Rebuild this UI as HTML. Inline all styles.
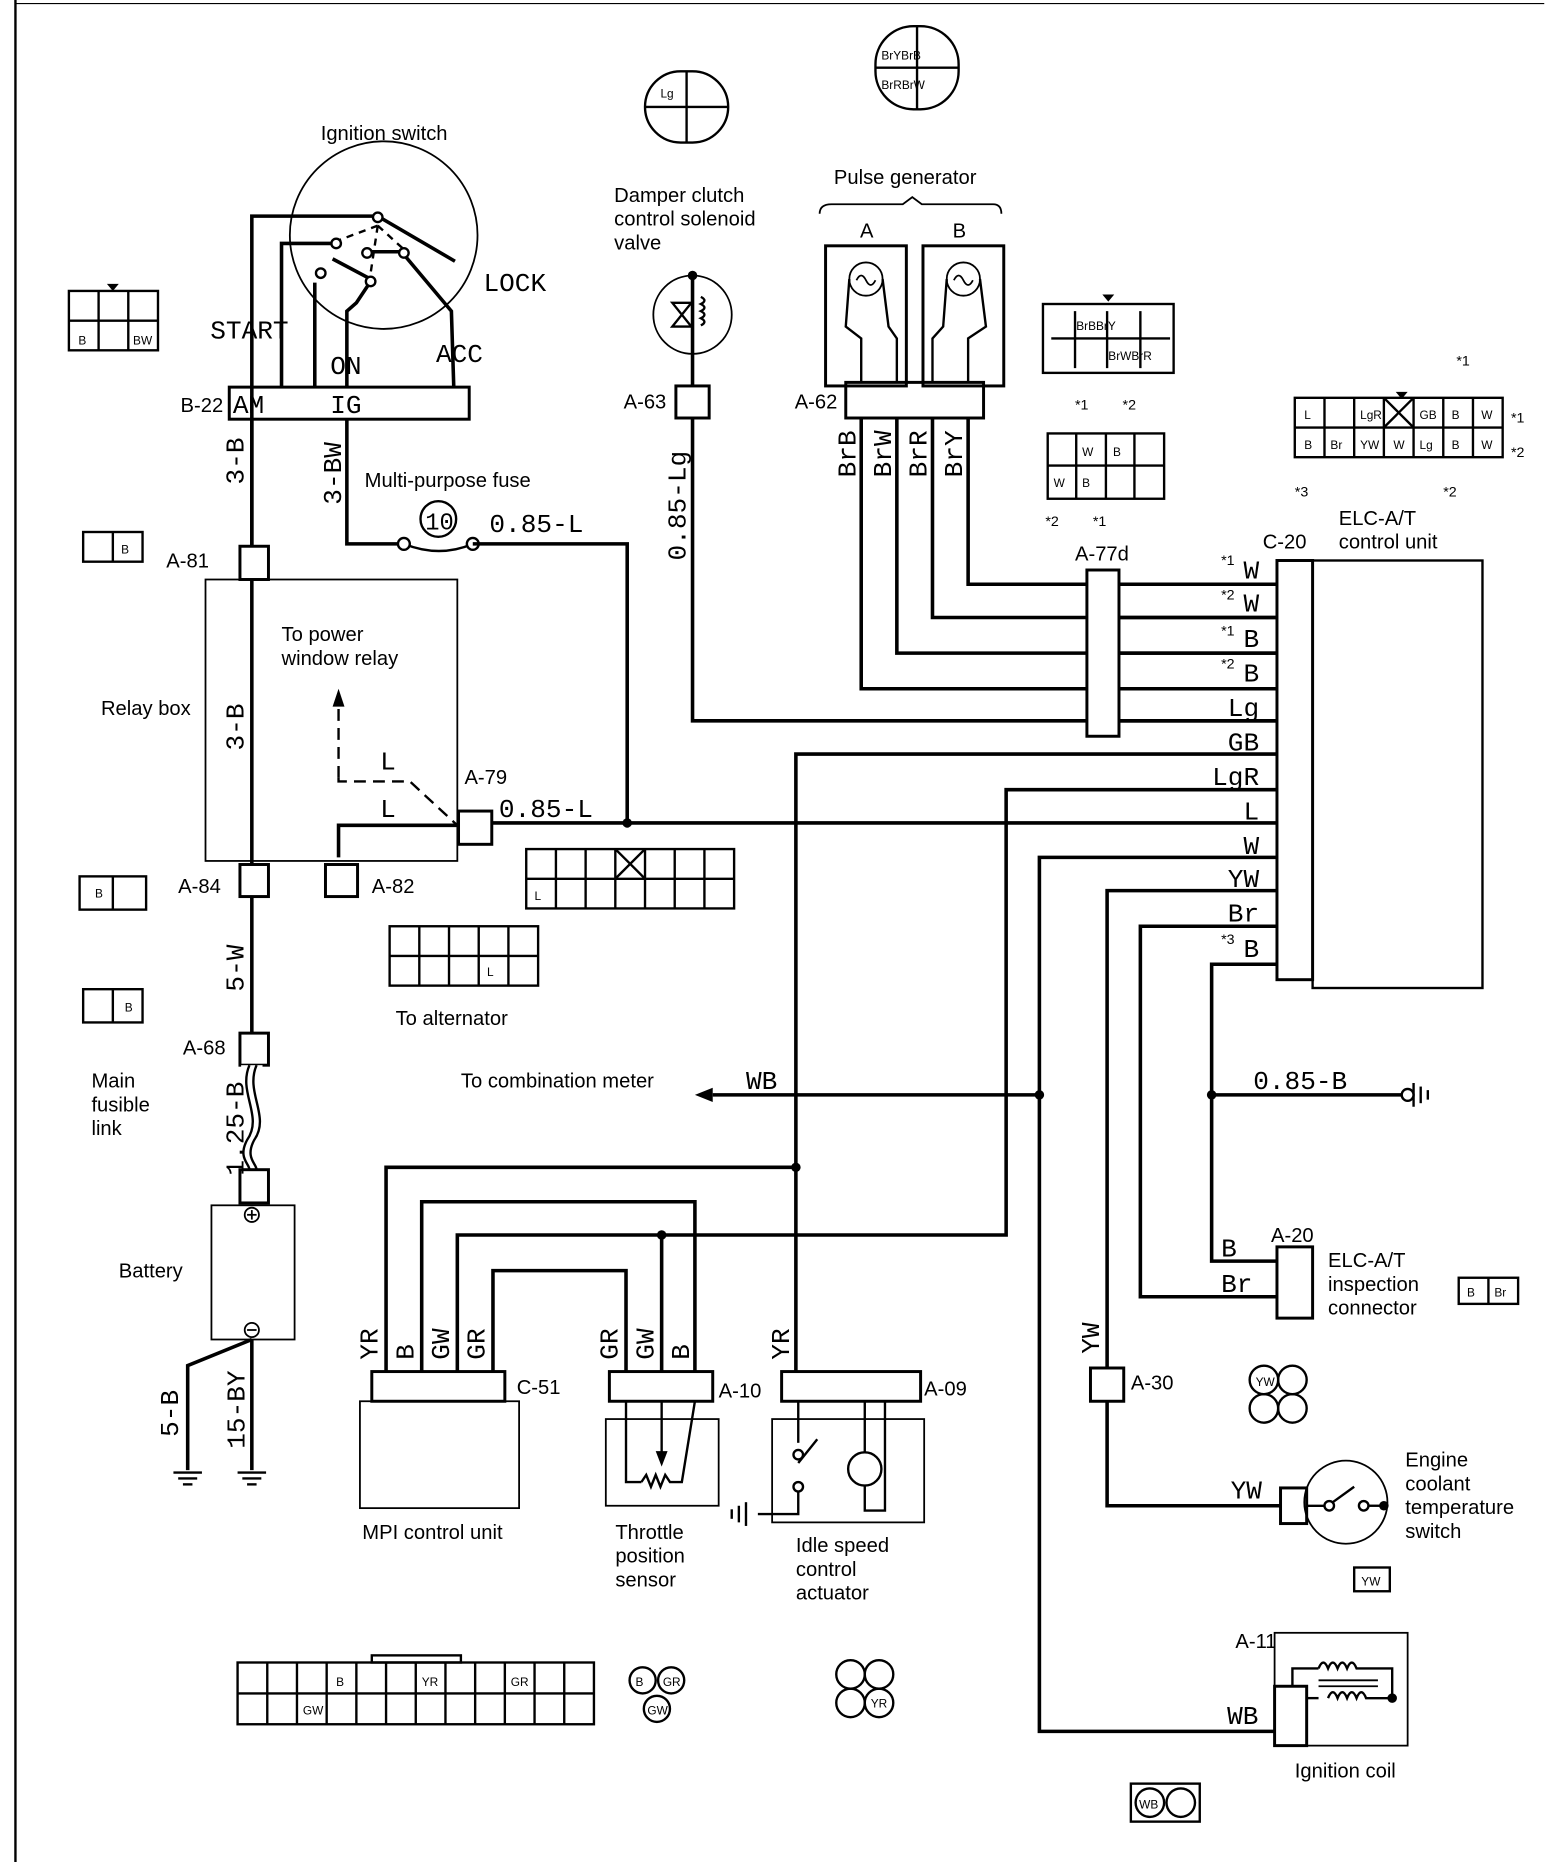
<!DOCTYPE html>
<html><head><meta charset="utf-8"><style>
html,body{margin:0;padding:0;background:#fff;}
svg{display:block;}
text{font-family:"Liberation Sans",sans-serif;fill:#000;}
.m text, text.m{font-family:"Liberation Mono","DejaVu Sans Mono",monospace;}
</style></head><body>
<svg width="1568" height="1862" viewBox="0 0 1320 1568" preserveAspectRatio="none" xmlns="http://www.w3.org/2000/svg">
<g fill="none" stroke="#000" stroke-width="3">
<line x1="13" y1="0" x2="13" y2="1568" stroke-width="2"/>
<line x1="13" y1="3" x2="1300" y2="3" stroke-width="1"/>
<!-- ignition switch -->
<circle cx="323" cy="198" r="79" stroke-width="1.5"/>
<polyline points="212,460 212,182 318,182"/>
<polyline points="237,326 237,205 283,205"/>
<polyline points="265,326 265,238"/>
<polyline points="292,326 292,262 300,255 310,240"/>
<line x1="318" y1="182" x2="383" y2="220"/>
<line x1="318" y1="190" x2="278" y2="205" stroke-dasharray="6,5" stroke-width="2"/>
<line x1="318" y1="190" x2="312" y2="230" stroke-dasharray="6,5" stroke-width="2"/>
<line x1="318" y1="190" x2="340" y2="210" stroke-dasharray="6,5" stroke-width="2"/>
<line x1="280" y1="218" x2="312" y2="235"/>
<line x1="310" y1="212" x2="338" y2="212"/>
<polyline points="338,212 380,262 382,326"/>
<circle cx="318" cy="183" r="4" fill="#fff" stroke-width="2"/>
<circle cx="283" cy="205" r="4" fill="#fff" stroke-width="2"/>
<circle cx="270" cy="230" r="4" fill="#fff" stroke-width="2"/>
<circle cx="312" cy="237" r="4" fill="#fff" stroke-width="2"/>
<circle cx="309" cy="213" r="4" fill="#fff" stroke-width="2"/>
<circle cx="340" cy="213" r="4" fill="#fff" stroke-width="2"/>
<rect x="193" y="326" width="202" height="27" stroke-width="2.5"/>
<!-- 3-BW and fuse -->
<polyline points="292,353 292,458 340,458"/>
<path d="M340,458 Q370,470 398,458" stroke-width="2"/>
<circle cx="340" cy="458" r="5" fill="#fff" stroke-width="2"/>
<circle cx="398" cy="458" r="5" fill="#fff" stroke-width="2"/>
<circle cx="369" cy="437" r="15" stroke-width="2"/>
<polyline points="398,458 528,458 528,693"/>
<!-- main B line -->
<line x1="212" y1="353" x2="212" y2="985"/>
<rect x="202" y="460" width="24" height="28" fill="#fff" stroke-width="2.5"/>
<rect x="173" y="488" width="212" height="237" stroke-width="1.5"/>
<rect x="202" y="728" width="24" height="27" fill="#fff" stroke-width="2.5"/>
<rect x="274" y="728" width="27" height="27" stroke-width="2.5"/>
<rect x="202" y="870" width="24" height="27" fill="#fff" stroke-width="2.5"/>
<rect x="203" y="897" width="18" height="88" fill="#fff" stroke="none"/>
<path d="M210,897 C200,920 222,940 208,960 C200,975 210,980 210,985" stroke-width="2"/>
<path d="M216,897 C206,920 228,940 214,960 C206,975 216,980 216,985" stroke-width="2"/>
<rect x="202" y="985" width="24" height="28" stroke-width="2.5"/>
<rect x="178" y="1015" width="70" height="113" stroke-width="1.5"/>
<circle cx="212" cy="1023" r="6" stroke-width="1.5"/>
<line x1="208" y1="1023" x2="216" y2="1023" stroke-width="1.5"/><line x1="212" y1="1019" x2="212" y2="1027" stroke-width="1.5"/>
<circle cx="212" cy="1120" r="6" stroke-width="1.5"/>
<line x1="208" y1="1120" x2="216" y2="1120" stroke-width="1.5"/>
<polyline points="212,1128 158,1150 158,1238"/>
<line x1="212" y1="1128" x2="212" y2="1238"/>
<g stroke-width="2"><line x1="146" y1="1240" x2="170" y2="1240"/><line x1="150" y1="1245" x2="166" y2="1245"/><line x1="154" y1="1250" x2="162" y2="1250"/>
<line x1="200" y1="1240" x2="224" y2="1240"/><line x1="204" y1="1245" x2="220" y2="1245"/><line x1="208" y1="1250" x2="216" y2="1250"/></g>
<!-- relay inside -->
<polyline points="285,722 285,695 385,695"/>
<polyline points="285,655 285,658 345,658 385,695" stroke-dasharray="10,6" stroke-width="2"/>
<line x1="285" y1="655" x2="285" y2="590" stroke-dasharray="10,6" stroke-width="2"/>
<rect x="386" y="683" width="28" height="28" stroke-width="2.5"/>
<line x1="414" y1="693" x2="1075" y2="693"/>
<!-- damper -->
<circle cx="583" cy="265" r="33" stroke-width="1.5"/>
<line x1="583" y1="232" x2="583" y2="325"/>
<path d="M566,255 L582,275 L566,275 L582,255 Z" stroke-width="2"/>
<path d="M590,250 q6,3 0,6 q6,3 0,6 q6,3 0,6 q6,3 0,6" stroke-width="2"/>
<rect x="569" y="325" width="28" height="27" stroke-width="2.5"/>
<polyline points="583,352 583,607 1075,607"/>
<!-- pulse generator -->
<rect x="695" y="207" width="68" height="118" stroke-width="2.5"/>
<rect x="777" y="207" width="68" height="118" stroke-width="2.5"/>
<circle cx="729" cy="235" r="14" stroke-width="1.5"/>
<circle cx="811" cy="235" r="14" stroke-width="1.5"/>
<path d="M721,236 q4,-8 8,0 q4,8 8,0" stroke-width="1.5"/>
<path d="M803,236 q4,-8 8,0 q4,8 8,0" stroke-width="1.5"/>
<polyline points="715,235 712,275 725,285 725,322" stroke-width="2"/>
<polyline points="743,235 748,275 755,285 755,322" stroke-width="2"/>
<polyline points="797,235 794,275 785,285 785,322" stroke-width="2"/>
<polyline points="825,235 830,275 815,285 815,322" stroke-width="2"/>
<rect x="712" y="322" width="116" height="30" stroke-width="2.5"/>
<polyline points="725,352 725,580 1075,580"/>
<polyline points="755,352 755,550 1075,550"/>
<polyline points="785,352 785,520 1075,520"/>
<polyline points="815,352 815,492 1075,492"/>
<path d="M690,180 Q690,172 700,172 L760,172 L768,166 L776,172 L836,172 Q843,172 843,180" stroke-width="1.5"/>
<rect x="915" y="480" width="27" height="140" fill="#fff" stroke-width="2.5"/>
<line x1="942" y1="492" x2="1075" y2="492"/><line x1="942" y1="520" x2="1075" y2="520"/><line x1="942" y1="550" x2="1075" y2="550"/><line x1="942" y1="580" x2="1075" y2="580"/><line x1="942" y1="607" x2="1075" y2="607"/>
<!-- ECU -->
<rect x="1075" y="472" width="30" height="353" stroke-width="2.5"/>
<rect x="1105" y="472" width="143" height="360" stroke-width="2"/>
<polyline points="1075,635 670,635 670,1155"/>
<polyline points="1075,665 847,665 847,1040 385,1040 385,1155"/>
<polyline points="1075,722 875,722 875,1458 1073,1458"/>
<polyline points="1075,750 932,750 932,1268 1078,1268"/>
<polyline points="1075,780 960,780 960,1092 1075,1092"/>
<polyline points="1075,812 1020,812 1020,1062 1075,1062"/>
<line x1="1020" y1="922" x2="1190" y2="922"/>
<g stroke-width="2"><line x1="1190" y1="912" x2="1190" y2="932"/><line x1="1196" y1="915" x2="1196" y2="929"/><line x1="1202" y1="918" x2="1202" y2="926"/></g>
<circle cx="1185" cy="922" r="5" fill="#fff" stroke-width="2"/>
<line x1="875" y1="922" x2="600" y2="922"/>
<polyline points="325,1155 325,983 670,983"/>
<polyline points="355,1155 355,1012 585,1012 585,1155"/>
<polyline points="557,1155 557,1040"/>
<polyline points="415,1155 415,1070 527,1070 527,1155"/>
<rect x="313" y="1155" width="112" height="25" stroke-width="2.5"/>
<rect x="303" y="1180" width="134" height="90" stroke-width="1.5"/>
<rect x="513" y="1155" width="87" height="25" stroke-width="2.5"/>
<rect x="510" y="1195" width="95" height="73" stroke-width="1.5"/>
<polyline points="527,1180 527,1248 540,1248" stroke-width="2"/>
<path d="M540,1248 l4,-6 l4,10 l4,-10 l4,10 l4,-10 l4,6 l10,0 L585,1180" stroke-width="2"/>
<line x1="557" y1="1180" x2="557" y2="1225" stroke-width="2"/>
<rect x="658" y="1155" width="117" height="25" stroke-width="2.5"/>
<rect x="650" y="1195" width="128" height="87" stroke-width="1.5"/>
<polyline points="672,1180 672,1215" stroke-width="2"/>
<line x1="672" y1="1232" x2="688" y2="1212" stroke-width="2"/>
<polyline points="672,1250 672,1275 638,1275" stroke-width="2"/>
<circle cx="672" cy="1225" r="4" fill="#fff" stroke-width="2"/>
<circle cx="672" cy="1252" r="4" fill="#fff" stroke-width="2"/>
<g stroke-width="2"><line x1="628" y1="1265" x2="628" y2="1285"/><line x1="622" y1="1268" x2="622" y2="1282"/><line x1="616" y1="1271" x2="616" y2="1279"/></g>
<circle cx="728" cy="1237" r="14" stroke-width="2"/>
<polyline points="728,1180 728,1223" stroke-width="2"/>
<polyline points="728,1251 728,1272 745,1272 745,1180" stroke-width="2"/>
<!-- A-20, A-30 -->
<rect x="1075" y="1050" width="30" height="60" stroke-width="2.5"/>
<rect x="918" y="1152" width="28" height="28" fill="#fff" stroke-width="2.5"/>
<!-- coolant -->
<circle cx="1133" cy="1265" r="35" stroke-width="1.5"/>
<rect x="1078" y="1253" width="22" height="30" stroke-width="2.5"/>
<line x1="1100" y1="1268" x2="1115" y2="1268" stroke-width="2"/>
<circle cx="1119" cy="1268" r="4" fill="#fff" stroke-width="2"/>
<line x1="1122" y1="1265" x2="1140" y2="1252" stroke-width="2"/>
<circle cx="1148" cy="1268" r="4" fill="#fff" stroke-width="2"/>
<line x1="1152" y1="1268" x2="1165" y2="1268" stroke-width="2"/>
<!-- ignition coil -->
<rect x="1073" y="1375" width="112" height="95" stroke-width="1.5"/>
<rect x="1073" y="1420" width="27" height="50" stroke-width="2.5"/>
<polyline points="1088,1420 1088,1405 1110,1405" stroke-width="2"/>
<polyline points="1100,1430 1110,1430" stroke-width="2"/>
<path d="M1110,1405 q4,-10 8,0 q4,-10 8,0 q4,-10 8,0 q4,-10 8,0 L1172,1405 L1172,1430 L1150,1430 q-4,-10 -8,0 q-4,-10 -8,0 q-4,-10 -8,0 q-4,-10 -8,0" stroke-width="2"/>
<line x1="1110" y1="1415" x2="1160" y2="1415" stroke-width="1.5"/>
<line x1="1110" y1="1420" x2="1160" y2="1420" stroke-width="1.5"/>
<!-- connector icons -->
<g stroke-width="2">
<rect x="58" y="245" width="75" height="50"/><line x1="58" y1="270" x2="133" y2="270"/><line x1="83" y1="245" x2="83" y2="295"/><line x1="108" y1="245" x2="108" y2="295"/>
<rect x="70" y="448" width="50" height="25"/><line x1="95" y1="448" x2="95" y2="473"/>
<rect x="67" y="738" width="56" height="28"/><line x1="95" y1="738" x2="95" y2="766"/>
<rect x="70" y="833" width="50" height="28"/><line x1="95" y1="833" x2="95" y2="861"/>
<rect x="543" y="60" width="70" height="60" rx="30"/><line x1="578" y1="60" x2="578" y2="120"/><line x1="543" y1="90" x2="613" y2="90"/>
<rect x="737" y="22" width="70" height="70" rx="32"/><line x1="772" y1="22" x2="772" y2="92"/><line x1="737" y1="57" x2="807" y2="57"/>
<rect x="878" y="256" width="110" height="58"/><line x1="885" y1="285" x2="985" y2="285"/><line x1="905" y1="262" x2="905" y2="310"/><line x1="932" y1="262" x2="932" y2="310"/><line x1="960" y1="262" x2="960" y2="310"/>
<rect x="882" y="365" width="98" height="55"/><line x1="882" y1="392" x2="980" y2="392"/><line x1="906" y1="365" x2="906" y2="420"/><line x1="931" y1="365" x2="931" y2="420"/><line x1="955" y1="365" x2="955" y2="420"/>
<rect x="1090" y="335" width="175" height="50"/><line x1="1090" y1="360" x2="1265" y2="360"/>
<line x1="1115" y1="335" x2="1115" y2="385"/><line x1="1140" y1="335" x2="1140" y2="385"/><line x1="1165" y1="335" x2="1165" y2="385"/><line x1="1190" y1="335" x2="1190" y2="385"/><line x1="1215" y1="335" x2="1215" y2="385"/><line x1="1240" y1="335" x2="1240" y2="385"/>
<line x1="1165" y1="335" x2="1190" y2="360"/><line x1="1190" y1="335" x2="1165" y2="360"/>
<rect x="443" y="715" width="175" height="50"/><line x1="443" y1="740" x2="618" y2="740"/>
<line x1="468" y1="715" x2="468" y2="765"/><line x1="493" y1="715" x2="493" y2="765"/><line x1="518" y1="715" x2="518" y2="765"/><line x1="543" y1="715" x2="543" y2="765"/><line x1="568" y1="715" x2="568" y2="765"/><line x1="593" y1="715" x2="593" y2="765"/>
<line x1="518" y1="715" x2="543" y2="740"/><line x1="543" y1="715" x2="518" y2="740"/>
<rect x="328" y="780" width="125" height="50"/><line x1="328" y1="805" x2="453" y2="805"/><line x1="353" y1="780" x2="353" y2="830"/><line x1="378" y1="780" x2="378" y2="830"/><line x1="403" y1="780" x2="403" y2="830"/><line x1="428" y1="780" x2="428" y2="830"/>
<rect x="200" y="1400" width="300" height="52"/><line x1="200" y1="1426" x2="500" y2="1426"/>
<line x1="225" y1="1400" x2="225" y2="1452"/><line x1="250" y1="1400" x2="250" y2="1452"/><line x1="275" y1="1400" x2="275" y2="1452"/><line x1="300" y1="1400" x2="300" y2="1452"/><line x1="325" y1="1400" x2="325" y2="1452"/><line x1="350" y1="1400" x2="350" y2="1452"/><line x1="375" y1="1400" x2="375" y2="1452"/><line x1="400" y1="1400" x2="400" y2="1452"/><line x1="425" y1="1400" x2="425" y2="1452"/><line x1="450" y1="1400" x2="450" y2="1452"/><line x1="475" y1="1400" x2="475" y2="1452"/>
<rect x="313" y="1394" width="75" height="6"/>
<circle cx="541" cy="1415" r="11"/><circle cx="565" cy="1415" r="11"/><circle cx="553" cy="1439" r="11"/>
<circle cx="716" cy="1410" r="12"/><circle cx="740" cy="1410" r="12"/><circle cx="716" cy="1434" r="12"/><circle cx="740" cy="1434" r="12"/>
<circle cx="1064" cy="1162" r="12"/><circle cx="1088" cy="1162" r="12"/><circle cx="1064" cy="1186" r="12"/><circle cx="1088" cy="1186" r="12"/>
<rect x="1228" y="1076" width="50" height="22"/><line x1="1253" y1="1076" x2="1253" y2="1098"/>
<rect x="1140" y="1320" width="30" height="20"/>
<rect x="952" y="1502" width="58" height="32"/><circle cx="968" cy="1518" r="12"/><circle cx="994" cy="1518" r="12"/>
</g>
</g>
<!-- dots -->
<g fill="#000"><circle cx="528" cy="693" r="4"/><circle cx="875" cy="922" r="4"/><circle cx="1020" cy="922" r="4"/><circle cx="670" cy="983" r="4"/><circle cx="557" cy="1040" r="4"/><circle cx="583" cy="232" r="4"/><circle cx="1165" cy="1268" r="4"/><circle cx="1172" cy="1430" r="4"/>
<polygon points="280,595 285,580 290,595"/><polygon points="585,922 600,916 600,928"/>
<polygon points="552,1222 557,1235 562,1222"/>
<polygon points="90,239 100,239 95,245"/><polygon points="928,248 938,248 933,254"/><polygon points="1175,330 1185,330 1180,336"/>
</g>
<!-- texts -->
<g font-size="17">
<text x="270" y="118">Ignition switch</text>
<text x="517" y="170">Damper clutch</text><text x="517" y="190">control solenoid</text><text x="517" y="210">valve</text>
<text x="702" y="155">Pulse generator</text>
<text x="724" y="200">A</text><text x="802" y="200">B</text>
<text x="152" y="347">B-22</text>
<text x="307" y="410">Multi-purpose fuse</text>
<text x="140" y="478">A-81</text>
<text x="237" y="540">To power</text><text x="237" y="560">window relay</text>
<text x="85" y="602">Relay box</text>
<text x="391" y="660">A-79</text>
<text x="150" y="752">A-84</text><text x="313" y="752">A-82</text>
<text x="333" y="863">To alternator</text>
<text x="154" y="888">A-68</text>
<text x="77" y="916">Main</text><text x="77" y="936">fusible</text><text x="77" y="956">link</text>
<text x="388" y="916">To combination meter</text>
<text x="100" y="1076">Battery</text>
<text x="525" y="344">A-63</text><text x="669" y="344">A-62</text>
<text x="905" y="472">A-77d</text><text x="1063" y="462">C-20</text>
<text x="1127" y="442">ELC-A/T</text><text x="1127" y="462">control unit</text>
<text x="1070" y="1046">A-20</text>
<text x="1118" y="1067">ELC-A/T</text><text x="1118" y="1087">inspection</text><text x="1118" y="1107">connector</text>
<text x="435" y="1174">C-51</text><text x="605" y="1177">A-10</text><text x="778" y="1175">A-09</text><text x="952" y="1170">A-30</text>
<text x="305" y="1296">MPI control unit</text>
<text x="518" y="1296">Throttle</text><text x="518" y="1316">position</text><text x="518" y="1336">sensor</text>
<text x="670" y="1307">Idle speed</text><text x="670" y="1327">control</text><text x="670" y="1347">actuator</text>
<text x="1183" y="1235">Engine</text><text x="1183" y="1255">coolant</text><text x="1183" y="1275">temperature</text><text x="1183" y="1295">switch</text>
<text x="1040" y="1388">A-11</text>
<text x="1090" y="1497">Ignition coil</text>
</g>
<g class="m" font-size="22">
<text x="177" y="285">START</text><text x="407" y="245">LOCK</text><text x="278" y="315">ON</text><text x="367" y="305">ACC</text>
<text x="196" y="348">AM</text><text x="278" y="348">IG</text>
<text x="412" y="448">0.85-L</text><text x="420" y="688">0.85-L</text>
<text x="320" y="648">L</text><text x="320" y="688">L</text>
<text x="628" y="917">WB</text>
<text x="1055" y="917">0.85-B</text>
<text x="1028" y="1058">B</text><text x="1028" y="1088">Br</text>
<text x="1036" y="1262">YW</text><text x="1033" y="1452">WB</text>
<text x="358" y="446" font-size="20">10</text>
</g>
<g class="m" font-size="22" text-anchor="end">
<text x="1060" y="487">W</text><text x="1060" y="515">W</text><text x="1060" y="545">B</text><text x="1060" y="574">B</text><text x="1060" y="603">Lg</text><text x="1060" y="632">GB</text><text x="1060" y="661">LgR</text><text x="1060" y="690">L</text><text x="1060" y="719">W</text><text x="1060" y="747">YW</text><text x="1060" y="776">Br</text><text x="1060" y="806">B</text>
</g>
<g font-size="12"><text x="1028" y="476">*1</text><text x="1028" y="505">*2</text><text x="1028" y="535">*1</text><text x="1028" y="563">*2</text><text x="1028" y="795">*3</text>
<text x="1226" y="308">*1</text><text x="1272" y="356">*1</text><text x="1272" y="385">*2</text><text x="1090" y="418">*3</text><text x="1215" y="418">*2</text>
<text x="905" y="345">*1</text><text x="945" y="345">*2</text><text x="880" y="443">*2</text><text x="920" y="443">*1</text>
<text x="66" y="290" font-size="10">B</text><text x="112" y="290" font-size="10">BW</text>
<text x="102" y="466" font-size="10">B</text><text x="80" y="756" font-size="10">B</text><text x="105" y="852" font-size="10">B</text>
<text x="556" y="82" font-size="10">Lg</text><text x="742" y="50" font-size="10">BrYBrB</text><text x="742" y="75" font-size="10">BrRBrW</text>
<text x="906" y="278" font-size="10">BrBBrY</text><text x="933" y="303" font-size="10">BrWBrR</text>
<text x="911" y="384" font-size="10">W</text><text x="937" y="384" font-size="10">B</text><text x="887" y="410" font-size="10">W</text><text x="911" y="410" font-size="10">B</text>
<g font-size="10"><text x="1098" y="353">L</text><text x="1145" y="353">LgR</text><text x="1195" y="353">GB</text><text x="1222" y="353">B</text><text x="1247" y="353">W</text>
<text x="1098" y="378">B</text><text x="1120" y="378">Br</text><text x="1145" y="378">YW</text><text x="1173" y="378">W</text><text x="1195" y="378">Lg</text><text x="1222" y="378">B</text><text x="1247" y="378">W</text>
<text x="450" y="758">L</text><text x="410" y="822">L</text>
<text x="283" y="1420">B</text><text x="355" y="1420">YR</text><text x="430" y="1420">GR</text><text x="255" y="1444">GW</text>
<text x="535" y="1420">B</text><text x="558" y="1420">GR</text><text x="545" y="1444">GW</text><text x="733" y="1438">YR</text>
<text x="1057" y="1167">YW</text><text x="1235" y="1092">B</text><text x="1258" y="1092">Br</text><text x="1146" y="1335">YW</text><text x="959" y="1523">WB</text></g>
</g>
<g class="m" font-size="22">
<text transform="translate(205,408) rotate(-90)">3-B</text>
<text transform="translate(205,632) rotate(-90)">3-B</text>
<text transform="translate(205,835) rotate(-90)">5-W</text>
<text transform="translate(205,990) rotate(-90)">1.25-B</text>
<text transform="translate(150,1210) rotate(-90)">5-B</text>
<text transform="translate(206,1220) rotate(-90)">15-BY</text>
<text transform="translate(287,425) rotate(-90)">3-BW</text>
<text transform="translate(577,472) rotate(-90)">0.85-Lg</text>
<text transform="translate(720,402) rotate(-90)">BrB</text><text transform="translate(750,402) rotate(-90)">BrW</text><text transform="translate(780,402) rotate(-90)">BrR</text><text transform="translate(810,402) rotate(-90)">BrY</text>
<text transform="translate(318,1145) rotate(-90)">YR</text><text transform="translate(348,1145) rotate(-90)">B</text><text transform="translate(378,1145) rotate(-90)">GW</text><text transform="translate(408,1145) rotate(-90)">GR</text>
<text transform="translate(520,1145) rotate(-90)">GR</text><text transform="translate(550,1145) rotate(-90)">GW</text><text transform="translate(580,1145) rotate(-90)">B</text>
<text transform="translate(664,1145) rotate(-90)">YR</text><text transform="translate(925,1140) rotate(-90)">YW</text>
</g>
</svg>
</body></html>
